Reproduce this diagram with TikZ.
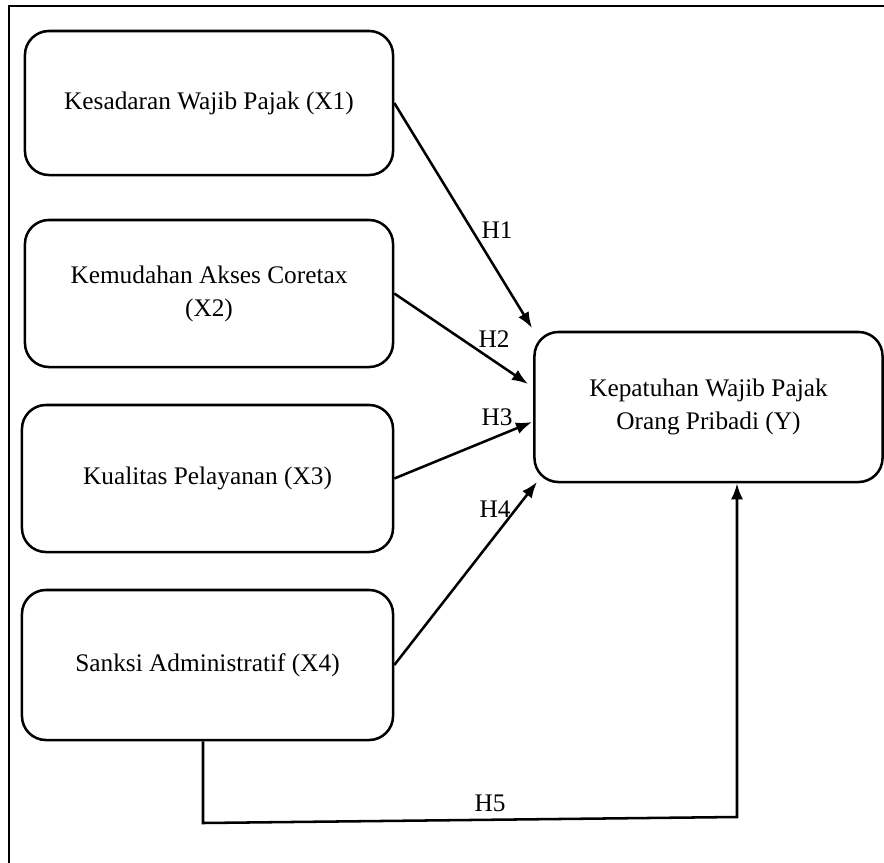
\documentclass[tikz,border=0pt]{standalone}
\usepackage{fontspec}
\setmainfont{Liberation Serif}
\usetikzlibrary{arrows.meta}

\begin{document}
\begin{tikzpicture}[x=0.025cm,y=-0.025cm,line width=1.8pt,
	>={Latex[length=4mm,width=3mm]},
	var/.style={draw,rectangle,rounded corners=0.6cm,align=center,
		font=\fontsize{18}{23.5}\selectfont},
	hyp/.style={font=\fontsize{18}{23.5}\selectfont,inner sep=0pt}]
	\clip (0,0) rectangle (884,863);
	\draw (9,6) rectangle (900,880);

	\node[var,minimum width=9.2cm,minimum height=3.6cm] (x1) at (209,103) {Kesadaran Wajib Pajak (X1)};
	\node[var,minimum width=9.2cm,minimum height=3.675cm] (x2) at (209,293.5) {Kemudahan Akses Coretax\\(X2)};
	\node[var,minimum width=9.275cm,minimum height=3.675cm] (x3) at (207.5,478.5) {Kualitas Pelayanan (X3)};
	\node[var,minimum width=9.275cm,minimum height=3.75cm] (x4) at (207.5,665) {Sanksi Administratif (X4)};
	\node[var,minimum width=8.7cm,minimum height=3.75cm] (y) at (708.5,407) {Kepatuhan Wajib Pajak\\Orang Pribadi (Y)};

	\coordinate (h1end) at (532,328);
	\coordinate (h2end) at (528,384);
	\coordinate (h3end) at (532,422);
	\coordinate (h4end) at (537,482);
	\coordinate (h5a) at (203,823);
	\coordinate (h5b) at (737,817);

	\path[->]
	(x1.east) edge (h1end)
	(x2.east) edge (h2end)
	(x3.east) edge (h3end)
	(x4.east) edge (h4end);
	\draw[->] (x4.south -| h5a) -- (h5a) -- (h5b) -- (h5b |- y.south);

	\node[hyp] (l1) at (497,230) {H1};
	\node[hyp] (l2) at (494,339) {H2};
	\node[hyp] (l3) at (497,417) {H3};
	\node[hyp] (l4) at (495,509) {H4};
	\node[hyp] (l5) at (490,803) {H5};
\end{tikzpicture}
\end{document}
